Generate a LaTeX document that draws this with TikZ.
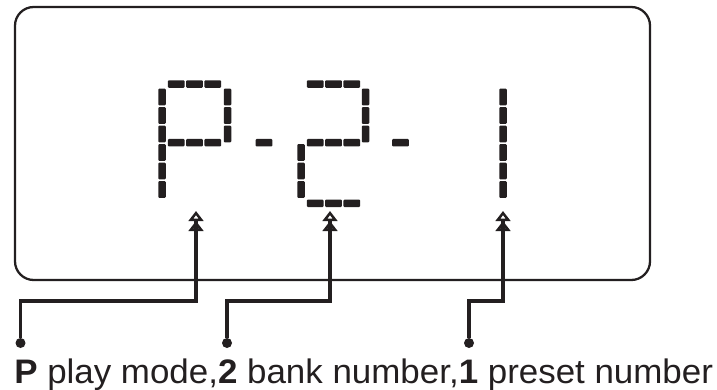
\documentclass[tikz,border=0pt]{standalone}
\usepackage{fontspec}
\setmainfont{Liberation Sans}
\usetikzlibrary{arrows.meta}
\definecolor{ink}{HTML}{231F20}
\begin{document}
\begin{tikzpicture}[x=0.75pt, y=-0.75pt]
\useasboundingbox (0,0) rectangle (717,389);

\def \seglen {16.8}
\def \segwid {7.5}

% rows of the display
\def \ya {84}
\def \yb {142.7}
\def \yc {203.3}

\def \va {97}
\def \vb {115.5}
\def \vc {134}
\def \vd {152.5}
\def \ve {171}
\def \vf {189.5}

\tikzset{seg/.style={fill=ink, rounded corners=0.8pt},
         wire/.style={draw=ink, line width=2.4pt,
           -{Triangle[open,length=7.5pt,width=11pt,line width=2.3pt]Triangle[open,length=7.5pt,width=11pt,line width=2.3pt]}},
         dot/.style={circle, fill=ink, inner sep=0pt, minimum size=7.5pt}}

\def \hseg#1#2{\path[seg] (#1 - \seglen/2, #2 - \segwid/2) rectangle (#1 + \seglen/2, #2 + \segwid/2);}
\def \vseg#1#2{\path[seg] (#1 - \segwid/2, #2 - \seglen/2) rectangle (#1 + \segwid/2, #2 + \seglen/2);}

% display frame
\draw[ink, line width=1.7pt, rounded corners=14pt] (15,7) rectangle (650,280);

% P
\hseg{176.2}{\ya} \hseg{194.5}{\ya} \hseg{212.8}{\ya}
\hseg{176.2}{\yb} \hseg{194.5}{\yb} \hseg{212.8}{\yb}
\vseg{162}{\va} \vseg{162}{\vb} \vseg{162}{\vc}
\vseg{162}{\vd} \vseg{162}{\ve} \vseg{162}{\vf}
\vseg{227.5}{\va} \vseg{227.5}{\vb} \vseg{227.5}{\vc}

% dash
\hseg{264}{\yb}

% 2
\hseg{315.2}{\ya} \hseg{333.5}{\ya} \hseg{351.8}{\ya}
\hseg{315.2}{\yb} \hseg{333.5}{\yb} \hseg{351.8}{\yb}
\hseg{315.2}{\yc} \hseg{333.5}{\yc} \hseg{351.8}{\yc}
\vseg{365.5}{\va} \vseg{365.5}{\vb} \vseg{365.5}{\vc}
\vseg{301}{\vd} \vseg{301}{\ve} \vseg{301}{\vf}

% dash
\hseg{400.5}{\yb}

% 1
\vseg{503}{\va} \vseg{503}{\vb} \vseg{503}{\vc}
\vseg{503}{\vd} \vseg{503}{\ve} \vseg{503}{\vf}

% pointers
\coordinate (knee) at (0,301);
\coordinate (ptip) at (196,211);
\coordinate (btip) at (330,211);
\coordinate (ntip) at (503,211);

\node[dot] (pdot) at (20.5,343) {};
\node[dot] (bdot) at (227,343) {};
\node[dot] (ndot) at (469,343) {};

\draw[wire] (pdot) -- (pdot |- knee) -| (ptip);
\draw[wire] (bdot) -- (bdot |- knee) -| (btip);
\draw[wire] (ndot) -- (ndot |- knee) -| (ntip);

% caption
\node[anchor=base west, inner sep=0pt, text=ink] (caption) at (14,383)
  {\fontsize{25.5pt}{30pt}\selectfont\resizebox{524pt}{\height}{\textbf{P} play mode,\textbf{2} bank number,\textbf{1} preset number}};

\end{tikzpicture}
\end{document}
